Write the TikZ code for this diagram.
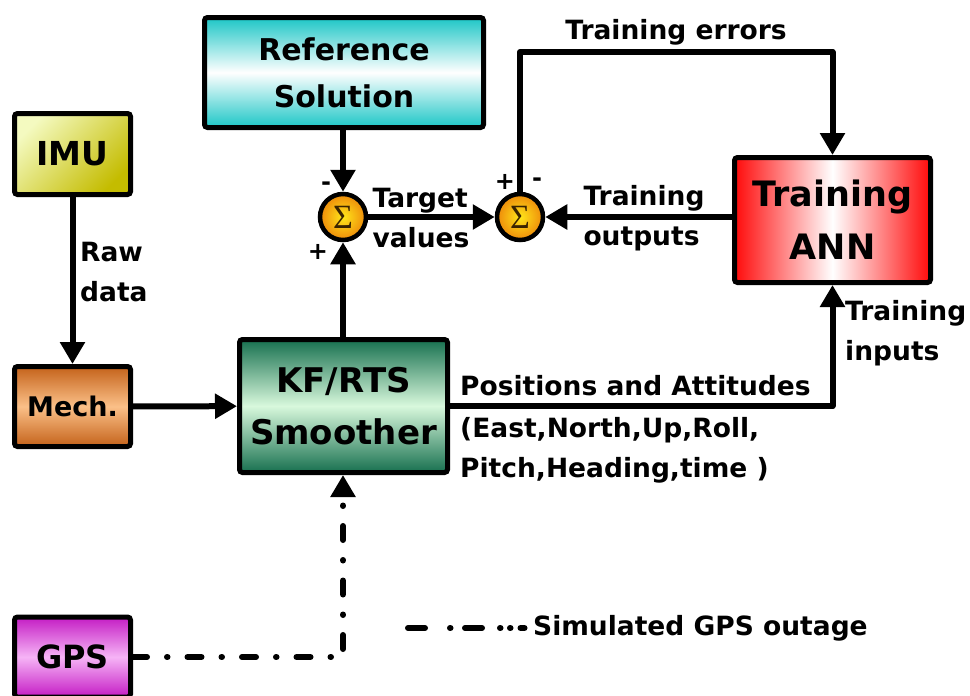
\documentclass[tikz,border=0pt]{standalone}
\usepackage{fontspec}
\setmainfont{DejaVu Sans}
\newfontfamily\sigmafont{Liberation Serif}
\usetikzlibrary{arrows.meta}

\definecolor{imuLight}{HTML}{F4FAC0}
\definecolor{imuDark}{HTML}{C4BC00}
\definecolor{refCyan}{HTML}{1CC6C6}
\definecolor{annRed}{HTML}{FF0A0A}
\definecolor{mechDark}{HTML}{C4621A}
\definecolor{mechLight}{HTML}{FBC088}
\definecolor{kfDark}{HTML}{17704F}
\definecolor{kfLight}{HTML}{D8F8DC}
\definecolor{gpsDark}{HTML}{C41CC4}
\definecolor{gpsLight}{HTML}{F6B4F6}
\definecolor{sumIn}{HTML}{FFE61A}
\definecolor{sumOut}{HTML}{EE8A0A}
\definecolor{sigmaInk}{HTML}{3A2400}

\tikzset{
  blk/.style={draw=black, line width=5pt, rounded corners=3pt, inner sep=0pt,
    align=center, font=\bfseries},
  sumring/.style={circle, draw=black, line width=4.5pt, minimum size=46pt,
    inner sep=0pt, inner color=sumIn, outer color=sumOut},
  sumglyph/.style={inner sep=0pt, text=sigmaInk,
    font=\sigmafont\fontsize{34}{34}\selectfont},
  conn/.style={line width=6pt, line join=round},
  arr/.style={conn, -{Triangle[length=22pt,width=24pt]}},
  gpsline/.style={line width=6pt, line cap=round, line join=round,
    dash pattern=on 14pt off 20pt on 0.5pt off 20pt},
  legendline/.style={line width=6pt, line cap=round,
    dash pattern=on 17pt off 25pt on 0.5pt off 14.5pt on 17pt off 18pt
      on 0.5pt off 9.5pt on 0.5pt off 10pt on 4pt off 10pt},
  lbl/.style={font=\bfseries\fontsize{26.5}{40}\selectfont, align=left, inner sep=0pt},
  pm/.style={font=\bfseries\fontsize{24}{24}\selectfont, inner sep=0pt}
}

\begin{document}
\begin{tikzpicture}[x=1pt,y=-1pt]
  \clip (0,0) rectangle (970,696);

  % processing blocks
  \node[blk, minimum width=116pt, minimum height=81pt,
        top color=imuLight, bottom color=imuDark, shading angle=45,
        font=\bfseries\fontsize{33}{40}\selectfont] (imu) at (72.5,154) {IMU};
  \node[blk, minimum width=279pt, minimum height=110pt,
        top color=refCyan, bottom color=refCyan, middle color=white,
        font=\bfseries\fontsize{30}{47}\selectfont] (ref) at (344,72.5) {Reference\\Solution};
  \node[blk, minimum width=196pt, minimum height=125pt,
        left color=annRed, right color=annRed, middle color=white,
        font=\bfseries\fontsize{35}{53}\selectfont] (ann) at (832.5,220) {Training\\ANN};
  \node[blk, minimum width=116pt, minimum height=80pt,
        top color=mechDark, bottom color=mechDark, middle color=mechLight,
        font=\bfseries\fontsize{27}{40}\selectfont] (mech) at (72.5,406.5) {Mech.};
  \node[blk, minimum width=208pt, minimum height=133pt,
        top color=kfDark, bottom color=kfDark, middle color=kfLight,
        font=\bfseries\fontsize{34}{52}\selectfont] (kf) at (343.5,406) {KF/RTS\\Smoother};
  \node[blk, minimum width=116pt, minimum height=80pt,
        top color=gpsDark, bottom color=gpsDark, middle color=gpsLight,
        font=\bfseries\fontsize{32}{40}\selectfont] (gps) at (72.5,657) {GPS};

  % summing junctions: shaded ring with the sigma set on top
  \node[sumring] (s1) at (343,217) {};
  \node[sumring] (s2) at (520,217) {};
  \node[sumglyph] (s1g) at (s1) {Σ};
  \node[sumglyph] (s2g) at (s2) {Σ};

  % connectors
  \coordinate (errrow) at (0,52);
  \draw[arr] (imu) -- (mech);
  \draw[arr] (mech) -- (kf);
  \draw[arr] (kf.north -| s1) -- (s1);
  \draw[arr] (ref.south -| s1) -- (s1);
  \draw[arr] (s1) -- (s2);
  \draw[arr] (ann.west |- s2) -- (s2);
  \draw[arr] (s2.north) -- (s2.north |- errrow) -| (ann.north);
  \draw[arr] (kf.east) -| (ann.south);
  \draw[gpsline, -{Triangle[length=22pt,width=24pt]}] (gps.east) -| (kf.south -| s1);

  % signs at the junctions
  \node[pm] at (326,186) {-};
  \node[pm] at (318,252) {+};
  \node[pm] at (505,182) {+};
  \node[pm] at (537,182) {-};

  % connector labels
  \node[lbl, anchor=west] at (80,272) {Raw\\data};
  \node[lbl, align=left] at (421,218) {Target\\values};
  \node[lbl, align=left] at (644,218) {Training\\outputs};
  \node[lbl] at (676,32) {Training errors};
  \node[lbl, anchor=west] at (845,333) {Training\\inputs};
  \node[lbl, anchor=base west] at (460,395) {Positions and Attitudes};
  \node[lbl, anchor=base west] at (460,437) {(East,North,Up,Roll,};
  \node[lbl, anchor=base west] at (460,477) {Pitch,Heading,time )};

  % legend
  \coordinate (lg1) at (408,628);
  \coordinate (lg2) at (525,628);
  \draw[legendline] (lg1) -- (lg2);
  \node[lbl, anchor=west] at (533,628) {Simulated GPS outage};
\end{tikzpicture}
\end{document}
